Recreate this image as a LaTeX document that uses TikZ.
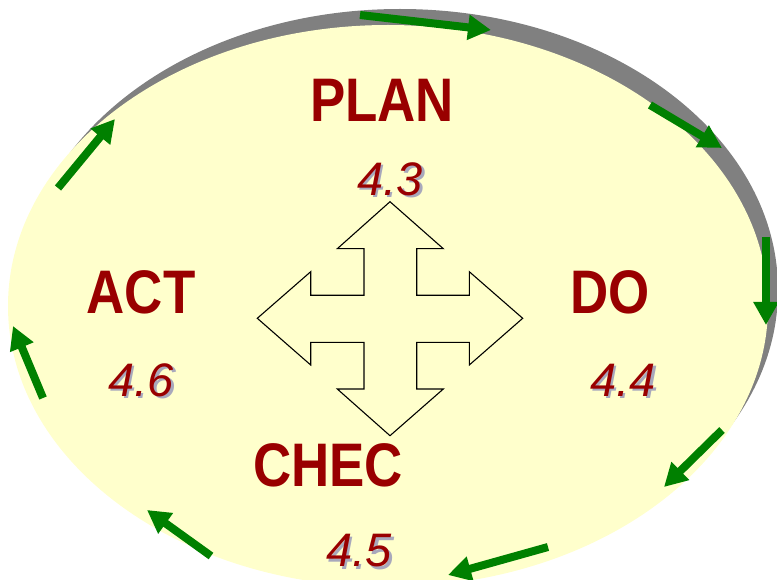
\documentclass[tikz,border=0pt]{standalone}
\usepackage{fontspec}
\setmainfont{Liberation Sans}
\newfontfamily\labfont{Liberation Sans}[FakeStretch=0.86]
\usetikzlibrary{arrows.meta}
\definecolor{paper}{HTML}{FFFFCC}
\definecolor{rim}{HTML}{808080}
\definecolor{wine}{HTML}{990000}
\definecolor{leaf}{HTML}{008000}
\definecolor{haze}{HTML}{A8A8BC}

\begin{document}
\begin{tikzpicture}[x=1pt,y=-1pt,
  phase/.style={font=\labfont\bfseries\fontsize{61.5}{62}\selectfont, text=wine, inner sep=0pt},
  clause/.style={font=\itshape\fontsize{47}{48}\selectfont, text=wine, inner sep=0pt},
  clauseshadow/.style={clause, text=haze},
  flow/.style={draw=leaf, line width=8pt, -{Triangle[length=23pt,width=24pt]}},
  cross/.style={draw=black, line width=1.1pt, line join=miter},
]
\useasboundingbox (0,0) rectangle (777,580);
\clip (0,0) rectangle (777,580);

% shadow rim and the cycle disc
\fill[rim] (400,290) ellipse [x radius=378pt, y radius=281pt];
\fill[paper] (388,306) ellipse [x radius=380pt, y radius=281pt];

% four-way arrow in the middle
\draw[cross] (390,201.7) -- (443.3,248.7) -- (416.7,248.7) -- (416.7,295.3)
  -- (469.3,295.3) -- (469.3,271.7) -- (522.7,318.3) -- (469.3,365)
  -- (469.3,342.3) -- (416.7,342.3) -- (416.7,389) -- (443.3,389)
  -- (390,435.7) -- (337.3,389) -- (364,389) -- (364,342.3)
  -- (310.7,342.3) -- (310.7,365) -- (257.3,318.3) -- (310.7,271.7)
  -- (310.7,295.3) -- (364,295.3) -- (364,248.7) -- (337.3,248.7) -- cycle;

% phase names
\node[phase] (plan) at (382,100) {PLAN};
\node[phase] (do)   at (610,292) {DO};
\node[phase] (chec) at (328,465) {CHEC};
\node[phase] (act)  at (141,292) {ACT};

% clause numbers with soft shadow
\node[clauseshadow] (s43) at (392.5,181.5) {4.3};
\node[clause]       (n43) at (390,179) {4.3};
\node[clauseshadow] (s44) at (625.5,382.5) {4.4};
\node[clause]       (n44) at (623,380) {4.4};
\node[clauseshadow] (s45) at (361.5,553.5) {4.5};
\node[clause]       (n45) at (359,551) {4.5};
\node[clauseshadow] (s46) at (143.5,382.5) {4.6};
\node[clause]       (n46) at (141,380) {4.6};

% green cycle arrows around the rim
\coordinate (f1a) at (360,15);  \coordinate (f1b) at (491,30);
\coordinate (f2a) at (650,105); \coordinate (f2b) at (722,148);
\coordinate (f3a) at (766,237); \coordinate (f3b) at (766,325);
\coordinate (f4a) at (722,430); \coordinate (f4b) at (664,487);
\coordinate (f5a) at (548,547); \coordinate (f5b) at (448,575);
\coordinate (f6a) at (211,556); \coordinate (f6b) at (147,510);
\coordinate (f7a) at (43,398);  \coordinate (f7b) at (13,326);
\coordinate (f8a) at (58,188);  \coordinate (f8b) at (115,119);
\foreach \k in {1,...,8} \draw[flow] (f\k a) -- (f\k b);
\end{tikzpicture}
\end{document}
